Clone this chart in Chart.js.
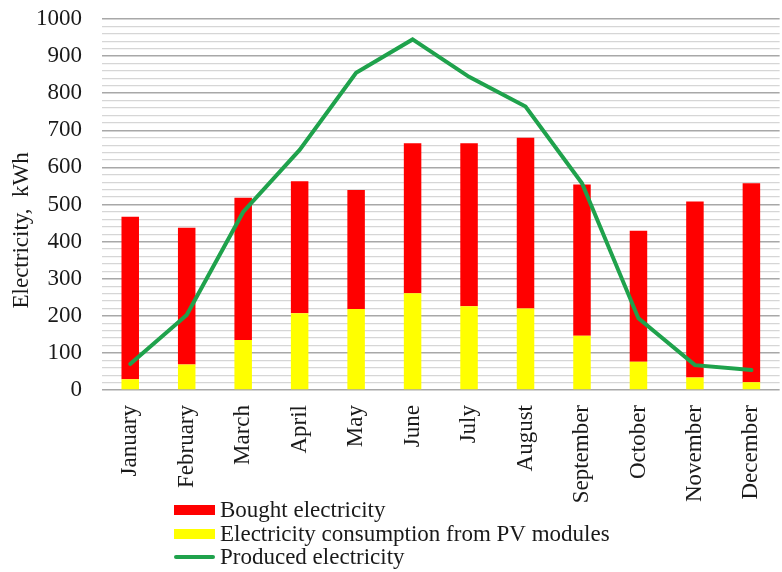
<!DOCTYPE html>
<html>
<head>
<meta charset="utf-8">
<script src="https://cdn.jsdelivr.net/npm/chart.js@4/dist/chart.umd.min.js"></script>
<style>
  html, body { margin: 0; padding: 0; background: #fff; overflow: hidden; }
  #wrap { width: 782px; height: 572px; overflow: hidden; position: relative; }
  #c { position: absolute; left: 0; top: 0; }
</style>
</head>
<body>
<div id="wrap"><canvas id="c" width="794" height="572"></canvas></div>
<script>
const months = ['January','February','March','April','May','June','July','August','September','October','November','December'];
const boughtElectricity = [438, 368, 383, 356, 321, 404, 439, 460, 408, 353, 474, 536];
const pvConsumption = [29, 69, 135, 207, 218, 261, 226, 220, 146, 76, 34, 21];
const producedElectricity = [70, 202, 480, 647, 855, 945, 844, 764, 557, 193, 67, 54];
const yMin = 0, yMax = 1000, yMajorStep = 100, yMinorStep = 20;
const seriesNames = ['Bought electricity', 'Electricity consumption from PV modules', 'Produced electricity'];
const yTitle = 'Electricity,  kWh';

const FONT = "'Liberation Serif', 'Times New Roman', serif";
const RED = '#ff0000', YELLOW = '#ffff00', GREEN = '#1fa24c';

const legendPlugin = {
  id: 'stackedLegend',
  afterDraw(chart) {
    const ctx = chart.ctx;
    const order = [1, 0, 2]; // dataset indices in legend order
    const x0 = 174, x1 = 215, textX = 220;
    const rows = [510, 534, 557];
    ctx.save();
    ctx.font = '23px ' + FONT;
    ctx.textBaseline = 'middle';
    ctx.textAlign = 'left';
    order.forEach((di, i) => {
      const ds = chart.data.datasets[di];
      const y = rows[i];
      if (ds.type === 'line') {
        ctx.strokeStyle = ds.borderColor;
        ctx.lineWidth = 4;
        ctx.lineCap = 'round';
        ctx.beginPath();
        ctx.moveTo(x0 + 2, y);
        ctx.lineTo(x1 - 2, y);
        ctx.stroke();
      } else {
        ctx.fillStyle = ds.backgroundColor;
        ctx.fillRect(x0, y - 5, x1 - x0, 10);
      }
      ctx.fillStyle = '#1a1a1a';
      ctx.fillText(ds.label, textX, y + 1);
    });
    ctx.restore();
  }
};

new Chart(document.getElementById('c'), {
  data: {
    labels: months,
    datasets: [
      { type: 'bar', label: seriesNames[1], data: pvConsumption, backgroundColor: YELLOW, stack: 's', order: 2,
        categoryPercentage: 1, barPercentage: 0.31 },
      { type: 'bar', label: seriesNames[0], data: boughtElectricity, backgroundColor: RED, stack: 's', order: 2,
        categoryPercentage: 1, barPercentage: 0.31 },
      { type: 'line', label: seriesNames[2], data: producedElectricity, borderColor: GREEN, backgroundColor: GREEN,
        borderWidth: 4, pointRadius: 0, tension: 0, borderCapStyle: 'round', order: 0 }
    ]
  },
  options: {
    responsive: false,
    animation: false,
    layout: { padding: { top: 19, right: 0, bottom: 0, left: 0 } },
    plugins: { legend: { display: false }, tooltip: { enabled: false } },
    scales: {
      x: {
        stacked: true,
        grid: { display: false, drawTicks: false },
        border: { display: false },
        ticks: {
          font: { family: FONT, size: 23 }, color: '#1a1a1a',
          maxRotation: 90, minRotation: 90, padding: 15, autoSkip: false
        },
        afterFit(scale) { scale.height = 182; }
      },
      y: {
        stacked: true,
        min: yMin, max: yMax,
        grid: {
          drawTicks: false,
          color: (c) => (c.tick && c.tick.value % yMajorStep === 0) ? '#a8a8a8' : '#d6d6d6',
          lineWidth: (c) => (c.tick && c.tick.value % yMajorStep === 0) ? 1.4 : 1.2
        },
        border: { display: false },
        ticks: {
          stepSize: yMinorStep, autoSkip: false, padding: 20,
          font: { family: FONT, size: 23 }, color: '#1a1a1a',
          callback: (v) => (v % yMajorStep === 0 ? String(v) : '')
        },
        title: {
          display: true, text: yTitle + '         ',
          font: { family: FONT, size: 23 }, color: '#1a1a1a',
          padding: { top: 8, bottom: 0 }
        },
        afterFit(scale) { scale.width = 102; scale.paddingTop = 0; scale.paddingBottom = 0; }
      }
    }
  },
  plugins: [legendPlugin]
});
</script>
</body>
</html>
